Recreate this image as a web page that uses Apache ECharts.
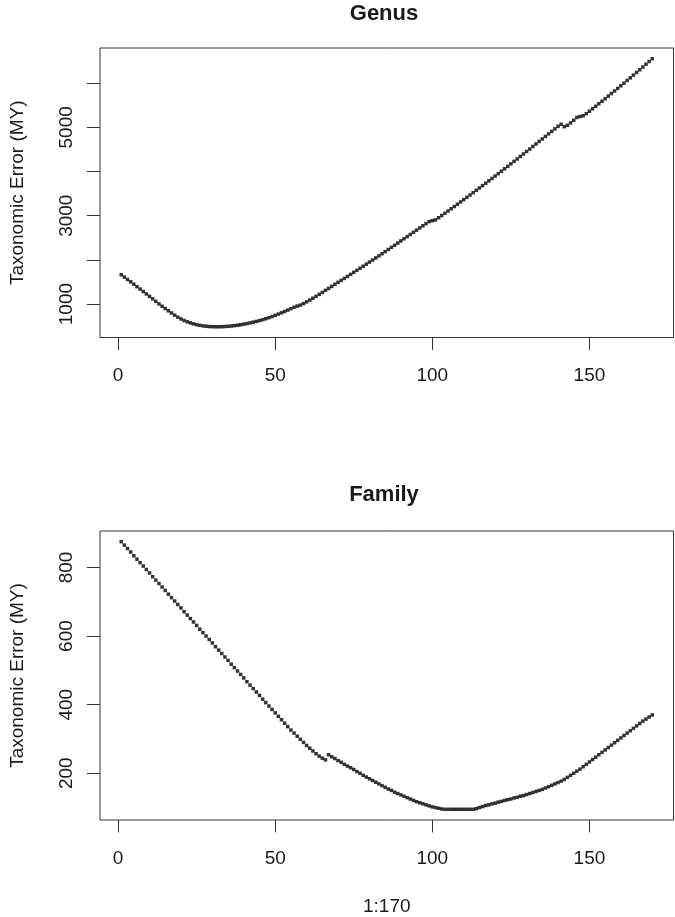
<!DOCTYPE html>
<html><head><meta charset="utf-8">
<script src="https://cdn.jsdelivr.net/npm/echarts@6/dist/echarts.min.js"></script>
<style>html,body{margin:0;padding:0;background:#fff}#c{width:675px;height:917px}</style>
</head><body><div id="c"></div>
<script>
// x index is literally 1:170
const xIndex = Array.from({length: 170}, (_, i) => i + 1);

const genusError = [
  1665, 1612, 1558, 1505, 1450, 1395, 1340, 1285, 1230, 1175,
  1120, 1062, 1005, 952, 900, 850, 800, 750, 705, 665,
  630, 600, 575, 553, 535, 520, 508, 499, 493, 489,
  487, 487, 489, 493, 498, 505, 513, 522, 533, 546,
  560, 575, 591, 608, 627, 647, 669, 693, 719, 746,
  774, 803, 833, 864, 896, 928, 955, 978, 1012, 1050,
  1091, 1133, 1176, 1220, 1265, 1310, 1355, 1400, 1447, 1492,
  1537, 1582, 1627, 1673, 1719, 1765, 1811, 1857, 1904, 1951,
  1998, 2045, 2092, 2140, 2188, 2236, 2284, 2332, 2381, 2430,
  2479, 2528, 2577, 2626, 2675, 2724, 2773, 2822, 2868, 2888,
  2905, 2955, 3005, 3055, 3106, 3157, 3208, 3260, 3312, 3364,
  3416, 3469, 3522, 3575, 3628, 3682, 3736, 3790, 3844, 3898,
  3953, 4008, 4063, 4118, 4173, 4229, 4285, 4341, 4397, 4453,
  4510, 4567, 4624, 4681, 4738, 4795, 4852, 4909, 4966, 5023,
  5070, 5015, 5045, 5100, 5160, 5225, 5245, 5262, 5310, 5365,
  5421, 5477, 5534, 5591, 5648, 5706, 5764, 5822, 5881, 5940,
  6000, 6060, 6120, 6181, 6242, 6303, 6365, 6427, 6490, 6553
];

const familyError = [
  875, 865, 855, 845, 834, 824, 814, 804, 794, 784,
  773, 763, 753, 743, 733, 722, 712, 702, 692, 682,
  671, 661, 651, 641, 631, 620, 610, 600, 590, 580,
  569, 559, 549, 539, 529, 518, 508, 498, 488, 478,
  467, 457, 447, 437, 427, 416, 406, 396, 386, 376,
  366, 356, 346, 336, 326, 317, 308, 299, 290, 281,
  273, 265, 257, 250, 244, 239, 254, 248, 243, 237,
  232, 226, 221, 216, 211, 205, 200, 194, 189, 184,
  179, 174, 169, 164, 159, 154, 150, 145, 141, 137,
  133, 129, 125, 121, 117, 114, 111, 108, 105, 102,
  100, 98, 96, 95, 95, 95, 95, 95, 95, 95,
  95, 95, 95, 97, 100, 103, 106, 108, 111, 113,
  116, 118, 121, 123, 125, 128, 130, 133, 135, 138,
  141, 144, 147, 150, 153, 157, 161, 165, 169, 173,
  177, 182, 188, 194, 200, 206, 212, 219, 226, 233,
  240, 247, 254, 261, 268, 275, 282, 289, 296, 303,
  310, 317, 324, 331, 338, 345, 352, 358, 364, 370
];

const xTicks = [0, 50, 100, 150];
const genusYTicks = [1000, 2000, 3000, 4000, 5000, 6000];
const genusYLabels = [1000, 3000, 5000];
const familyYTicks = [200, 400, 600, 800];
const familyYLabels = [200, 400, 600, 800];
const panelTitles = ['Genus', 'Family'];
const yName = 'Taxonomic Error (MY)';
const xName = '1:170';

const F = '"Liberation Sans", Arial, Helvetica, sans-serif';
const INK = '#1a1a1a';

// R-style 4% range extension
function rRange(arr) {
  const lo = Math.min(...arr), hi = Math.max(...arr);
  const d = (hi - lo) * 0.04;
  return [lo - d, hi + d];
}
const xr = rRange(xIndex);
const gy = rRange(genusError);
const fy = rRange(familyError);

const grids = [
  {left: 95, top: 48, width: 578.5, height: 289.5},
  {left: 95, top: 531, width: 578.5, height: 289}
];

function xAxis(i, withName) {
  return {
    gridIndex: i, type: 'value', min: xr[0], max: xr[1],
    axisLine: {show: false, onZero: false}, splitLine: {show: false},
    axisTick: {show: true, length: 12.5, customValues: xTicks, lineStyle: {color: '#333', width: 1}},
    axisLabel: {customValues: xTicks, fontSize: 19, color: INK, margin: 29, fontFamily: F,
                formatter: v => String(v)},
    name: withName ? xName : '', nameLocation: 'middle', nameGap: 77,
    nameTextStyle: {fontSize: 19, color: INK, fontFamily: F}
  };
}
function yAxis(i, r, ticks, labels) {
  return {
    gridIndex: i, type: 'value', min: r[0], max: r[1],
    axisLine: {show: false, onZero: false}, splitLine: {show: false},
    axisTick: {show: true, length: 13, customValues: ticks, lineStyle: {color: '#333', width: 1}},
    axisLabel: {customValues: labels, rotate: 90, fontSize: 19, color: INK, margin: 24, fontFamily: F,
                formatter: v => String(v)},
    name: yName, nameLocation: 'middle', nameGap: 73,
    nameTextStyle: {fontSize: 19, color: INK, fontFamily: F}
  };
}

const chart = echarts.init(document.getElementById('c'), null, {renderer: 'canvas'});
chart.setOption({
  backgroundColor: '#fff',
  animation: false,
  grid: grids.map(g => Object.assign({show: true, borderColor: '#333', borderWidth: 1, backgroundColor: 'transparent'}, g)),
  xAxis: [xAxis(0, false), xAxis(1, true)],
  yAxis: [yAxis(0, gy, genusYTicks, genusYLabels), yAxis(1, fy, familyYTicks, familyYLabels)],
  graphic: [
    {type: 'text', x: 384, y: 13.5, style: {text: panelTitles[0], font: 'bold 22px ' + F, fill: INK, align: 'center', verticalAlign: 'middle', textAlign: 'center', textVerticalAlign: 'middle'}},
    {type: 'text', x: 384, y: 494.5, style: {text: panelTitles[1], font: 'bold 22px ' + F, fill: INK, align: 'center', verticalAlign: 'middle', textAlign: 'center', textVerticalAlign: 'middle'}}
  ],
  series: [
    {type: 'scatter', xAxisIndex: 0, yAxisIndex: 0, symbol: 'rect', symbolSize: 3.5, silent: true,
     itemStyle: {color: '#000'}, data: xIndex.map((x, i) => [x, genusError[i]])},
    {type: 'scatter', xAxisIndex: 1, yAxisIndex: 1, symbol: 'rect', symbolSize: 3.5, silent: true,
     itemStyle: {color: '#000'}, data: xIndex.map((x, i) => [x, familyError[i]])}
  ]
});
</script>
</body></html>
